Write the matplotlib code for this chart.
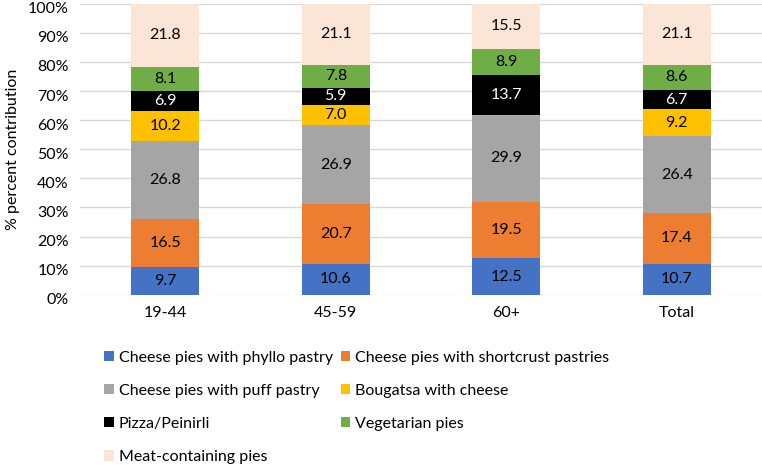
import numpy as np
import matplotlib
matplotlib.use('Agg')
import matplotlib.pyplot as plt
import matplotlib.transforms as mtransforms
from matplotlib.patches import Patch

plt.rcParams['font.family'] = ['Lato', 'DejaVu Sans']

groups = ['19-44', '45-59', '60+', 'Total']
series = ['Cheese pies with phyllo pastry', 'Cheese pies with shortcrust pastries',
          'Cheese pies with puff pastry', 'Bougatsa with cheese', 'Pizza/Peinirli',
          'Vegetarian pies', 'Meat-containing pies']
phyllo = [9.7, 10.6, 12.5, 10.7]
shortcrust = [16.5, 20.7, 19.5, 17.4]
puff = [26.8, 26.9, 29.9, 26.4]
bougatsa = [10.2, 7.0, 0.0, 9.2]
pizza = [6.9, 5.9, 13.7, 6.7]
vegetarian = [8.1, 7.8, 8.9, 8.6]
meat = [21.8, 21.1, 15.5, 21.1]
colors = ['#4472C4', '#ED7D31', '#A5A5A5', '#FFC000', '#000000', '#70AD47', '#FBE5D6']

values = [phyllo, shortcrust, puff, bougatsa, pizza, vegetarian, meat]

fig = plt.figure(figsize=(7.62, 4.65), dpi=100)
ax = fig.add_axes([0.105, 0.366, 0.895, 0.626])

x = np.arange(len(groups))
bottom = np.zeros(len(groups))
for name, vals, c in zip(series, values, colors):
    vals = np.array(vals)
    ax.bar(x, vals, 0.4, bottom=bottom, color=c, label=name, zorder=3)
    txt_color = 'white' if c == '#000000' else 'black'
    for xi, v, b in zip(x, vals, bottom):
        if v > 0:
            ax.text(xi, b + v / 2, f'{v:.1f}', ha='center', va='center',
                    fontsize=11.5, color=txt_color, zorder=4)
    bottom += vals

ax.set_xlim(-0.5, len(groups) - 0.5)
ax.set_ylim(0, 100)
ax.set_yticks(np.arange(0, 101, 10))
ax.set_yticklabels([f'{t}%' for t in range(0, 101, 10)], fontsize=11.5)
ax.set_xticks(x)
ax.set_xticklabels(groups, fontsize=11.5)
ax.tick_params(length=0, pad=8)
# shift y tick labels slightly down like the reference
shift = mtransforms.ScaledTranslation(0, -4 / 100, fig.dpi_scale_trans)
for lab in ax.get_yticklabels():
    lab.set_transform(lab.get_transform() + shift)
ax.grid(axis='y', color='#D9D9D9', linewidth=1, zorder=0)
for s in ax.spines.values():
    s.set_visible(False)
ax.set_ylabel('% percent contribution', fontsize=11.5, labelpad=6)

order = [0, 2, 4, 6, 1, 3, 5]
handles = [Patch(facecolor=colors[i]) for i in order]
labels = [series[i] for i in order]
fig.legend(handles, labels, ncol=2, loc='upper left', bbox_to_anchor=(0.118, 0.277),
           frameon=False, fontsize=11.5, handlelength=0.6, handleheight=0.6,
           handletextpad=0.3, labelspacing=1.2, columnspacing=0.5)

fig.savefig('out.png', dpi=100)
